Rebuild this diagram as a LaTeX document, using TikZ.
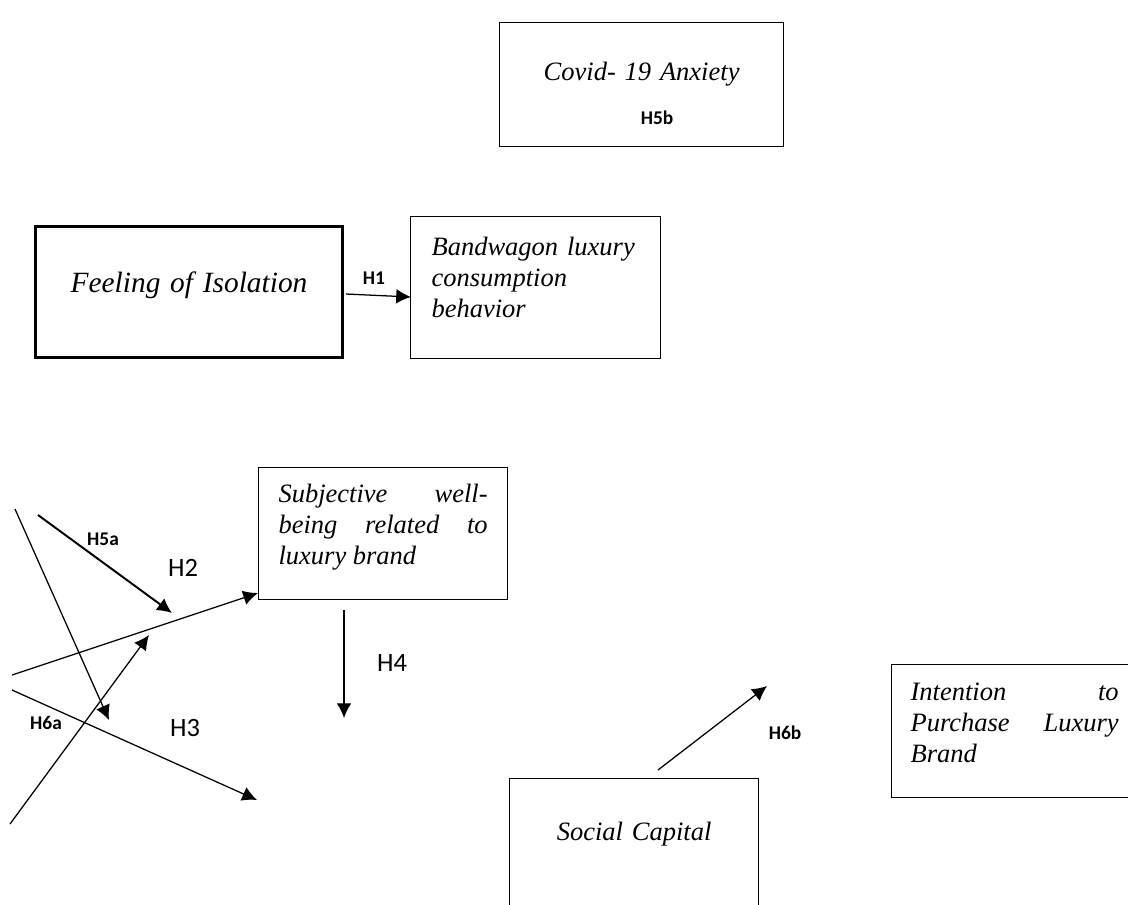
\documentclass[tikz,border=0pt]{standalone}
\usepackage{fontspec}
\setmainfont{Liberation Serif}
\newfontfamily\labelfont{Carlito}
\usetikzlibrary{arrows.meta}

\begin{document}
\begin{tikzpicture}[
x=0.025cm,
y=-0.025cm,
box/.style={
draw,
line width=0.8pt,
anchor=north west,
inner ysep=0pt,
font=\fontsize{18.85}{21.9}\selectfont\itshape
},
hyp/.style={
font=\fontsize{13.8}{16}\selectfont\labelfont\bfseries
},
hypbig/.style={
font=\fontsize{18.8}{22}\selectfont\labelfont
},
arr/.style={
-{Latex[length=10.5pt,width=10.5pt]},
line width=0.9pt
}
]

\path[use as bounding box, clip] (0,0) rectangle (1128,904);

\node[box, inner xsep=0pt, text width=7.1cm, align=center,
text height=1.45cm, text depth=1.65cm] (covid)
at (499,22)
{Covid- 19 Anxiety};

\node[box, line width=2.1pt, inner xsep=0pt, text width=7.675cm, align=center,
text height=1.6375cm, text depth=1.6375cm,
font=\fontsize{20.9}{24}\selectfont\itshape] (feel)
at (34,225)
{Feeling of Isolation};

\node[box, inner xsep=0.525cm, text width=5.2cm, align=left,
text height=0.975cm, text depth=2.575cm] (bw)
at (410,216)
{Bandwagon luxury\\consumption\\behavior};

\node[box, inner xsep=0.5cm, text width=5.225cm, align=justify,
text height=0.875cm, text depth=2.425cm] (sub)
at (258,467)
{Subjective well-\linebreak being related to\linebreak luxury brand};

\node[box, inner xsep=0.475cm, text width=5.2cm, align=justify,
text height=0.9cm, text depth=2.425cm] (intent)
at (891,664)
{Intention to\linebreak Purchase Luxury\linebreak Brand};

\node[box, inner xsep=0pt, text width=6.225cm, align=center,
text height=1.55cm, text depth=1.775cm] (soc)
at (509,778)
{Social Capital};

\node[hyp] (h5b) at (657,118) {H5b};
\node[hyp] (h1) at (374,278) {H1};
\node[hyp] (h5a) at (103,539) {H5a};
\node[hyp] (h6a) at (46,723) {H6a};
\node[hyp] (h6b) at (785,733) {H6b};
\node[hypbig] (h2) at (183,568) {H2};
\node[hypbig] (h3) at (185,728) {H3};
\node[hypbig] (h4) at (392,663) {H4};

\coordinate (h1s) at (346,294);
\coordinate (h1e) at (411,297);
\coordinate (h5as) at (38,515);
\coordinate (h5ae) at (172,613);
\coordinate (ms) at (15,509);
\coordinate (me) at (109,720);
\coordinate (h2s) at (12,675);
\coordinate (h2e) at (258,593);
\coordinate (h6as) at (10,824);
\coordinate (h6ae) at (149,635);
\coordinate (h3s) at (12,690);
\coordinate (h3e) at (257,800);
\coordinate (h4s) at (344,610);
\coordinate (h4e) at (344,718);
\coordinate (h6bs) at (658,770);
\coordinate (h6be) at (767,686);

\draw[arr] (h1s) -- (h1e);
\draw[arr, line width=1.4pt] (h5as) -- (h5ae);
\draw[arr] (ms) -- (me);
\draw[arr] (h2s) -- (h2e);
\draw[arr] (h6as) -- (h6ae);
\draw[arr] (h3s) -- (h3e);
\draw[arr] (h4s) -- (h4e);
\draw[arr] (h6bs) -- (h6be);

\end{tikzpicture}
\end{document}
